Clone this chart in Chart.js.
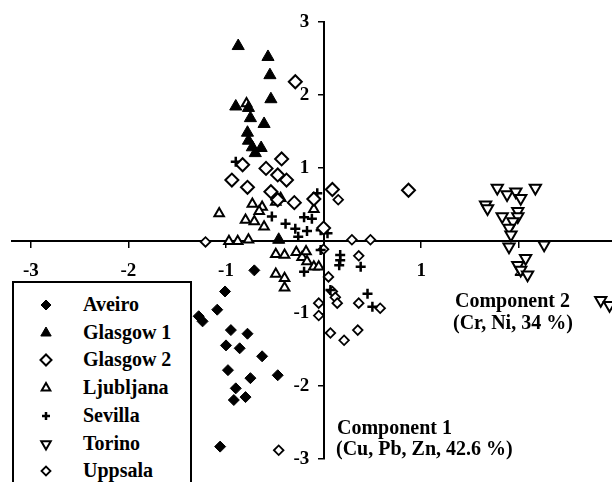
<!DOCTYPE html>
<html>
<head>
<meta charset="utf-8">
<script src="https://cdn.jsdelivr.net/npm/chart.js@4.4.1/dist/chart.umd.min.js"></script>
<style>
  body { margin: 0; background: #fff; overflow: hidden; width: 612px; height: 482px; position: relative;
         font-family: 'Liberation Serif', 'Times New Roman', serif; font-weight: bold; color: #000; }
  #chart { position: absolute; left: 0; top: 0; }
  .note { position: absolute; font-size: 20px; line-height: 22px; white-space: nowrap; }
  #legend { position: absolute; left: 12px; top: 281px; width: 176px; height: 220px; border: 2px solid #000; background: #fff; }
  .row { position: absolute; left: 0; width: 176px; height: 28px; }
  .row canvas { position: absolute; left: 22px; top: 4px; }
  .row span { position: absolute; left: 69px; top: 2px; font-size: 20px; line-height: 22px; white-space: nowrap; }
</style>
</head>
<body>
<canvas id="chart" width="640" height="482"></canvas>
<div class="note" style="left:455px;top:289px">Component 2</div>
<div class="note" style="left:453px;top:311px">(Cr, Ni, 34 %)</div>
<div class="note" style="left:337px;top:416px">Component 1</div>
<div class="note" style="left:336px;top:437px">(Cu, Pb, Zn, 42.6 %)</div>
<div id="legend"></div>
<script>
// ========== DATA ==========
const xTicks = [-3, -2, -1, 0, 1, 2, 3];
const yTicks = [-3, -2, -1, 0, 1, 2, 3];

const aveiroX = [-1.09, -1.28, -1.24, -0.95, -0.78, -1.00, -0.86, -0.63, -0.98, -0.75, -0.47, -0.90, -0.92, -0.80, -1.06, -0.71, -1.01];
const aveiroY = [-0.95, -1.04, -1.11, -1.23, -1.28, -1.44, -1.48, -1.59, -1.78, -1.89, -1.85, -2.03, -2.19, -2.15, -2.83, -0.41, -0.70];

const glasgow1X = [-0.875, -0.57, -0.55, -0.54, -0.90, -0.77, -0.75, -0.61, -0.78, -0.77, -0.73, -0.64, -0.70, -0.46];
const glasgow1Y = [2.67, 2.52, 2.27, 1.94, 1.84, 1.82, 1.68, 1.60, 1.48, 1.37, 1.28, 1.27, 1.20, 0.01];

const glasgow2X = [-0.29, -0.43, -0.83, -0.59, -0.47, -0.38, -0.94, -0.78, -0.54, -0.47, -0.30, -0.10, 0.09, 0.87, 0.00];
const glasgow2Y = [2.18, 1.12, 1.04, 0.99, 0.90, 0.83, 0.83, 0.73, 0.67, 0.56, 0.52, 0.57, 0.70, 0.69, 0.17];

const ljubljanaX = [-1.07, -0.73, -0.63, -0.66, -0.80, -0.71, -0.61, -0.49, -0.44, -0.97, -0.88, -0.77, -0.49, -0.40, -0.28, -0.22, -0.17, -0.49, -0.40, -0.40, -0.10, -0.18, -0.10, -0.05, -0.79];
const ljubljanaY = [0.37, 0.50, 0.46, 0.40, 0.28, 0.26, 0.19, 0.53, 0.58, -0.01, -0.01, 0.01, -0.19, -0.20, -0.16, -0.23, -0.29, -0.46, -0.52, -0.65, 0.43, -0.15, -0.36, -0.36, 1.88];

const sevillaX = [-0.90, -0.53, -0.39, -0.29, -0.20, -0.12, -0.065, -0.03, 0.04, -0.26, -0.20, 0.17, 0.17, 0.16, 0.38, 0.45, 0.50, 0.07, -0.03, -0.17];
const sevillaY = [1.08, 0.33, 0.23, 0.16, 0.32, 0.30, 0.65, 0.14, 0.10, 0.05, -0.43, -0.20, -0.27, -0.34, -0.36, -0.73, -0.91, -0.68, -0.13, 0.13];

const torinoX = [1.78, 1.88, 1.97, 2.02, 2.17, 1.66, 1.68, 1.83, 1.99, 1.99, 1.94, 1.90, 1.92, 1.90, 2.26, 2.07, 1.99, 2.02, 2.09, 2.84, 2.93];
const torinoY = [0.72, 0.63, 0.67, 0.58, 0.72, 0.49, 0.44, 0.33, 0.40, 0.33, 0.26, 0.17, 0.08, -0.085, -0.06, -0.245, -0.34, -0.405, -0.47, -0.82, -0.89];

const uppsalaX = [-1.21, 0.29, 0.48, 0.15, 0.00, 0.36, 0.05, 0.09, 0.12, 0.14, -0.05, -0.05, 0.36, 0.58, 0.07, 0.21, 0.35, -0.46];
const uppsalaY = [-0.02, 0.01, 0.01, 0.56, -0.12, -0.21, -0.50, -0.70, -0.78, -0.86, -0.86, -1.03, -0.86, -0.93, -1.27, -1.37, -1.23, -2.88];

// ========== SERIES STYLE ==========
const series = [
  { label: 'Aveiro',    xs: aveiroX,    ys: aveiroY,    style: 'rectRot',  r: 5.5, lr: 5,   rot: 0,   filled: true,  bw: 1 },
  { label: 'Glasgow 1', xs: glasgow1X,  ys: glasgow1Y,  style: 'triangle', r: 7,   lr: 6,   rot: 0,   filled: true,  bw: 1 },
  { label: 'Glasgow 2', xs: glasgow2X,  ys: glasgow2Y,  style: 'rectRot',  r: 6.5, lr: 5.5, rot: 0,   filled: false, bw: 2 },
  { label: 'Ljubljana', xs: ljubljanaX, ys: ljubljanaY, style: 'triangle', r: 5.5, lr: 5,   rot: 0,   filled: false, bw: 2 },
  { label: 'Sevilla',   xs: sevillaX,   ys: sevillaY,   style: 'cross',    r: 5,   lr: 4,   rot: 0,   filled: false, bw: 2.5 },
  { label: 'Torino',    xs: torinoX,    ys: torinoY,    style: 'triangle', r: 6.5, lr: 5.5, rot: 180, filled: false, bw: 2 },
  { label: 'Uppsala',   xs: uppsalaX,   ys: uppsalaY,   style: 'rectRot',  r: 4.8, lr: 4.5, rot: 0,   filled: false, bw: 1.8 }
];

const datasets = series.map(s => ({
  label: s.label,
  data: s.xs.map((x, i) => ({ x, y: s.ys[i] })),
  pointStyle: s.style,
  pointRadius: s.r,
  pointRotation: s.rot,
  pointBorderWidth: s.bw,
  pointBorderColor: '#000',
  pointBackgroundColor: s.filled ? '#000' : '#fff',
  showLine: false
}));

const tickFont = { family: 'Liberation Serif', size: 19, weight: 'bold' };

// axes cross at 0; y labels sit right-aligned on the axis line there, so pad them with spaces
new Chart(document.getElementById('chart'), {
  type: 'scatter',
  data: { datasets },
  options: {
    responsive: false,
    animation: false,
    layout: { padding: { left: 12, right: 9, top: 22, bottom: 23 } },
    plugins: { legend: { display: false }, tooltip: { enabled: false } },
    scales: {
      x: {
        type: 'linear', min: -3.193, max: 3.15, position: { y: 0 },
        afterBuildTicks: s => { s.ticks = xTicks.map(v => ({ value: v })); },
        grid: { display: true, drawOnChartArea: false, drawTicks: true, tickLength: 6, color: '#000', lineWidth: 1.5 },
        border: { display: true, color: '#000', width: 2 },
        ticks: { color: '#000', font: tickFont, padding: 13, autoSkip: false, maxRotation: 0, callback: v => v === 0 ? '' : String(v) }
      },
      y: {
        type: 'linear', min: -3, max: 3, position: { x: 0 },
        afterBuildTicks: s => { s.ticks = yTicks.map(v => ({ value: v })); },
        grid: { display: true, drawOnChartArea: false, drawTicks: true, tickLength: 5, color: '#000', lineWidth: 1.5 },
        border: { display: true, color: '#000', width: 2 },
        ticks: { color: '#000', font: tickFont, padding: 9, autoSkip: false, callback: v => v === 0 ? '' : String(v) + '   ' }
      }
    }
  }
});

// ========== LEGEND ==========
const legend = document.getElementById('legend');
series.forEach((s, i) => {
  const row = document.createElement('div');
  row.className = 'row';
  row.style.top = (8 + i * 27.7) + 'px';
  const c = document.createElement('canvas');
  c.width = 20; c.height = 20;
  const g = c.getContext('2d');
  g.fillStyle = s.filled ? '#000' : '#fff';
  g.strokeStyle = '#000';
  g.lineWidth = s.bw;
  Chart.helpers.drawPoint(g, { pointStyle: s.style, radius: s.lr, rotation: s.rot, borderWidth: s.bw }, 10, 10);
  const t = document.createElement('span');
  t.textContent = s.label;
  row.appendChild(c);
  row.appendChild(t);
  legend.appendChild(row);
});
</script>
</body>
</html>
